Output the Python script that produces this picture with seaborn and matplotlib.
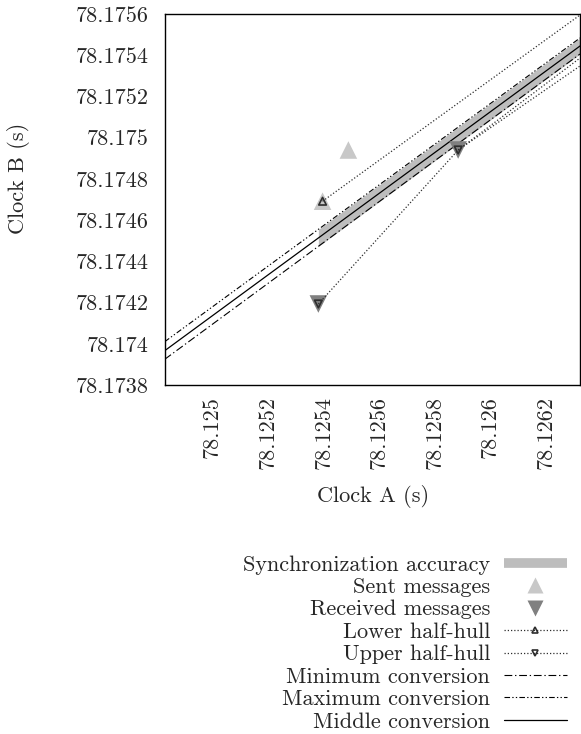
import matplotlib
matplotlib.use("Agg")
import matplotlib.pyplot as plt
from matplotlib.lines import Line2D
import seaborn as sns

# ---------------- data ----------------
x_ticks = [78.125, 78.1252, 78.1254, 78.1256, 78.1258, 78.126, 78.1262]
x_tick_labels = ["78.125", "78.1252", "78.1254", "78.1256", "78.1258", "78.126", "78.1262"]
y_ticks = [78.1738, 78.174, 78.1742, 78.1744, 78.1746, 78.1748, 78.175, 78.1752, 78.1754, 78.1756]
y_tick_labels = ["78.1738", "78.174", "78.1742", "78.1744", "78.1746", "78.1748",
                 "78.175", "78.1752", "78.1754", "78.1756"]
x_limits = [78.1248288, 78.1263226]
y_limits = [78.1738, 78.1756]

sent_x = [78.1253966, 78.1254895]
sent_y = [78.1746917, 78.1749401]
recv_x = [78.1253815, 78.1258843]
recv_y = [78.1741930, 78.1749401]

lower_hull_x = [78.1253966, 78.1263226]
lower_hull_y = [78.1746917, 78.1755951]
upper_hull_x = [78.1253815, 78.1258843, 78.1263226]
upper_hull_y = [78.1741930, 78.1749401, 78.1753865]
upper_hull2_x = [78.1258843, 78.1263226]
upper_hull2_y = [78.1749401, 78.1753477]

conv_x = [78.1248288, 78.1263226]
min_conv_y = [78.1739246, 78.1754059]
max_conv_y = [78.1740100, 78.1754836]
mid_conv_y = [78.1739663, 78.1754447]

acc_x = [78.1253815, 78.1263226]
acc_lo = [78.1744724, 78.1754059]
acc_hi = [78.1745549, 78.1754836]

labels = ["Synchronization accuracy", "Sent messages", "Received messages",
          "Lower half-hull", "Upper half-hull", "Minimum conversion",
          "Maximum conversion", "Middle conversion"]

# ---------------- style ----------------
sns.set_theme(style="white")
plt.rcParams["font.family"] = ["cmr10", "DejaVu Serif"]
plt.rcParams["axes.unicode_minus"] = False
plt.rcParams["mathtext.fontset"] = "cm"
FS = 16.0

band_c = "#bdbdbd"
sent_c = "#c8c8c8"
recv_c = "#808080"
hull_c = "#2e2e2e"
line_c = "black"
min_ls = (0, (7, 2.5, 1.2, 2.5))
max_ls = (0, (5, 2, 1.2, 2, 1.2, 2))
dot_ls = (0, (1, 1.6))

fig = plt.figure(figsize=(5.81, 7.34), dpi=100)
ax = fig.add_axes([164.7 / 581, 1 - 385 / 734, (580 - 164.7) / 581, (385 - 14) / 734])

# accuracy band
ax.fill_between(acc_x, acc_lo, acc_hi, color=band_c, lw=0, zorder=1)

# conversions
sns.lineplot(x=conv_x, y=mid_conv_y, ax=ax, sort=False, estimator=None,
             color=line_c, lw=0.9, zorder=3)
sns.lineplot(x=conv_x, y=min_conv_y, ax=ax, sort=False, estimator=None,
             color=line_c, lw=0.8, linestyle=min_ls, zorder=3)
sns.lineplot(x=conv_x, y=max_conv_y, ax=ax, sort=False, estimator=None,
             color=line_c, lw=0.8, linestyle=max_ls, zorder=3)

# messages
sns.scatterplot(x=sent_x, y=sent_y, ax=ax, marker="^", s=160, color=sent_c,
                edgecolor="none", zorder=4)
sns.scatterplot(x=recv_x, y=recv_y, ax=ax, marker="v", s=160, color=recv_c,
                edgecolor="none", zorder=4)

# half hulls
sns.lineplot(x=lower_hull_x, y=lower_hull_y, ax=ax, sort=False, estimator=None,
             color=hull_c, lw=0.9, linestyle=dot_ls, zorder=5)
sns.lineplot(x=upper_hull_x, y=upper_hull_y, ax=ax, sort=False, estimator=None,
             color=hull_c, lw=0.9, linestyle=dot_ls, zorder=5)
sns.lineplot(x=upper_hull2_x, y=upper_hull2_y, ax=ax, sort=False, estimator=None,
             color=hull_c, lw=0.9, linestyle=dot_ls, zorder=5)
sns.scatterplot(x=lower_hull_x[:1], y=lower_hull_y[:1], ax=ax, marker="^", s=30,
                facecolor="none", edgecolor=hull_c, linewidth=1.2, zorder=6)
sns.scatterplot(x=upper_hull_x[:2], y=upper_hull_y[:2], ax=ax, marker="v", s=30,
                facecolor="none", edgecolor=hull_c, linewidth=1.2, zorder=6)

ax.set_xlim(x_limits)
ax.set_ylim(y_limits)
ax.set_xticks(x_ticks)
ax.set_xticklabels(x_tick_labels, rotation=90, fontsize=FS)
ax.set_yticks(y_ticks)
ax.set_yticklabels(y_tick_labels, fontsize=FS)
ax.tick_params(axis="both", direction="in", length=5, width=0.9, color="black")
ax.tick_params(axis="x", pad=8)
ax.tick_params(axis="y", pad=11.5)
for sp in ax.spines.values():
    sp.set_visible(True)
    sp.set_color("black")
    sp.set_linewidth(1.0)
ax.set_xlabel("")
ax.set_ylabel("")

fig.text(373 / 581, 1 - 497 / 734, "Clock A (s)", ha="center", va="center", fontsize=FS)
fig.text(19 / 581, 1 - 178 / 734, "Clock B (s)", ha="center", va="center",
         rotation=90, fontsize=FS)

# legend
handles = [
    Line2D([], [], color=band_c, lw=7, solid_capstyle="butt"),
    Line2D([], [], ls="none", marker="^", ms=11, color=sent_c, mec="none"),
    Line2D([], [], ls="none", marker="v", ms=11, color=recv_c, mec="none"),
    Line2D([], [], color=hull_c, lw=0.9, ls=dot_ls, marker="^", ms=5,
           mfc="none", mec=hull_c, mew=1.2),
    Line2D([], [], color=hull_c, lw=0.9, ls=dot_ls, marker="v", ms=5,
           mfc="none", mec=hull_c, mew=1.2),
    Line2D([], [], color=line_c, lw=0.8, ls=min_ls),
    Line2D([], [], color=line_c, lw=0.8, ls=max_ls),
    Line2D([], [], color=line_c, lw=0.9),
]
fig.legend(handles, labels, loc="upper right",
           bbox_to_anchor=(567 / 581, 1 - 555 / 734), bbox_transform=fig.transFigure,
           frameon=False, markerfirst=False, numpoints=1, fontsize=FS,
           handlelength=2.85, handletextpad=0.62, labelspacing=0.13,
           borderpad=0, borderaxespad=0)

fig.savefig("out.png", dpi=100)
